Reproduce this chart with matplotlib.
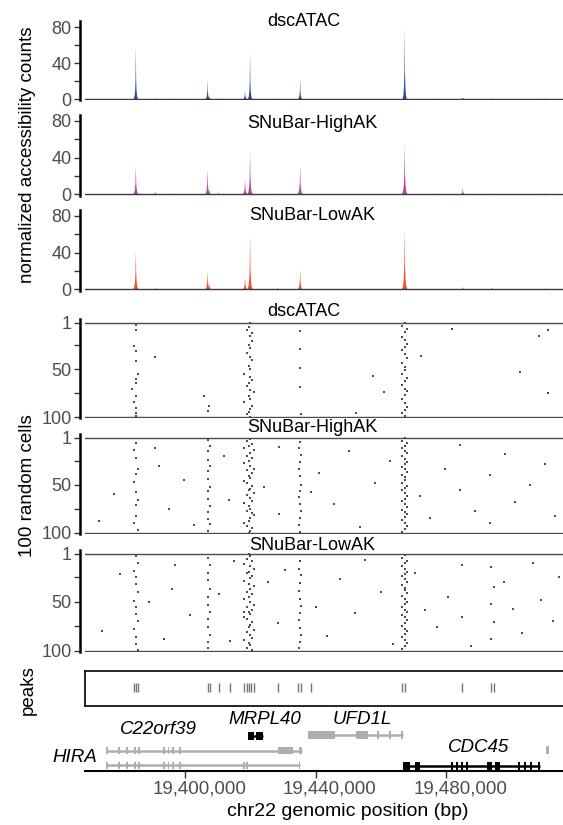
import matplotlib
matplotlib.use("Agg")
import matplotlib.pyplot as plt
from matplotlib.patches import Rectangle
import matplotlib.transforms as mtransforms

plt.rcParams['font.family'] = ['Liberation Sans', 'DejaVu Sans']

# ---------------- data ----------------
x_range = (19369300, 19515700)
x_ticks = [19400000, 19440000, 19480000]
x_tick_labels = ["19,400,000", "19,440,000", "19,480,000"]

track_names = ["dscATAC", "SNuBar-HighAK", "SNuBar-LowAK"]
track_colors = ["#2C4A9C", "#B3479C", "#F0502C"]

cov_peak_pos = [19384870, 19390790, 19395700, 19406850, 19407370, 19410130,
                19418320, 19419860, 19428300, 19435200, 19467210, 19476700,
                19485010, 19493900, 19509900]
dsc_cov = [58, 0.5, 0.3, 22, 3, 0.5, 10, 52, 0.5, 23, 80, 0.5, 2, 0.5, 0.5]
high_cov = [31, 3, 1.5, 27, 5, 2, 17, 46, 1, 31, 55, 1.5, 7, 1, 1.5]
low_cov = [43, 2, 1, 20, 7, 1, 14, 58, 2, 21, 65, 1, 3, 2, 1.5]

peak_calls = [19384195, 19384810, 19385420, 19406850, 19407670, 19410230,
              19413810, 19418110, 19418820, 19419540, 19420260, 19420970,
              19428340, 19434680, 19435500, 19438560, 19466500, 19467210,
              19484910, 19493610, 19494620]

# (position in kb, cell row)
dsc_dots = [
    (19384.9, 4), (19384.9, 9), (19384.2, 26), (19384.9, 31), (19384.9, 41), (19385.4, 55),
    (19384.9, 60), (19384.9, 64), (19383.7, 70), (19384.9, 78), (19384.2, 84), (19384.9, 90),
    (19384.9, 96), (19384.9, 99),
    (19390.8, 37), (19405.8, 78), (19407.4, 88), (19406.9, 93),
    (19419.9, 2), (19419.5, 6), (19418.8, 9), (19420.3, 12), (19419.9, 15), (19420.3, 20),
    (19419.5, 24), (19419.9, 28), (19418.8, 33), (19419.9, 37), (19420.3, 40), (19419.5, 46),
    (19419.9, 50), (19418.1, 55), (19419.9, 58), (19420.3, 61), (19419.5, 64), (19418.8, 67),
    (19419.9, 71), (19421.0, 74), (19419.5, 78), (19419.9, 81), (19418.1, 84), (19420.3, 88),
    (19419.9, 91), (19419.5, 94), (19418.8, 97), (19419.9, 100),
    (19435.2, 10), (19435.2, 29), (19435.2, 48), (19435.2, 68), (19435.5, 97),
    (19467.2, 1), (19466.5, 5), (19467.9, 8), (19467.2, 11), (19466.5, 16), (19467.2, 19),
    (19467.9, 23), (19467.2, 27), (19466.5, 30), (19467.2, 34), (19467.9, 38), (19466.5, 43),
    (19467.2, 47), (19467.2, 51), (19466.5, 55), (19467.9, 59), (19467.2, 62), (19466.5, 66),
    (19467.2, 70), (19467.9, 73), (19467.2, 77), (19466.5, 81), (19467.2, 85), (19467.9, 89),
    (19467.2, 92), (19466.5, 96), (19467.2, 99),
    (19457.4, 57), (19460.8, 74), (19452.2, 96), (19472.1, 36), (19481.6, 8), (19508.3, 15),
    (19511.1, 9), (19502.5, 53), (19511.1, 75)]

high_dots = [
    (19384.9, 6), (19384.2, 14), (19384.9, 22), (19385.4, 33), (19384.9, 39), (19384.2, 47),
    (19384.9, 58), (19385.4, 66), (19384.9, 71), (19384.9, 83), (19384.2, 90), (19385.4, 97),
    (19406.9, 3), (19407.7, 9), (19406.9, 15), (19406.9, 24), (19407.7, 30), (19406.9, 36),
    (19406.9, 44), (19407.7, 52), (19406.9, 57), (19406.9, 65), (19407.7, 72), (19406.9, 79),
    (19406.9, 86), (19407.7, 91), (19406.9, 98),
    (19419.9, 2), (19418.8, 4), (19420.3, 7), (19419.5, 9), (19418.1, 12), (19421.0, 14),
    (19419.9, 17), (19418.8, 20), (19420.3, 22), (19419.5, 25), (19418.1, 27), (19419.9, 30),
    (19421.0, 33), (19418.8, 35), (19420.3, 38), (19419.5, 41), (19419.9, 43), (19418.1, 46),
    (19418.8, 48), (19420.3, 51), (19419.9, 54), (19419.5, 56), (19421.0, 59), (19418.8, 61),
    (19419.9, 64), (19420.3, 67), (19418.1, 69), (19419.5, 72), (19419.9, 75), (19418.8, 77),
    (19420.3, 80), (19421.0, 82), (19419.9, 85), (19419.5, 88), (19418.1, 90), (19418.8, 93),
    (19420.3, 95), (19419.9, 98), (19419.5, 100),
    (19435.2, 5), (19434.7, 11), (19435.5, 19), (19435.2, 26), (19434.7, 34), (19435.2, 41),
    (19435.5, 50), (19435.2, 57), (19434.7, 63), (19435.2, 70), (19435.5, 78), (19435.2, 85),
    (19434.7, 92), (19435.2, 99),
    (19467.2, 1), (19466.5, 4), (19467.9, 6), (19467.2, 9), (19466.5, 12), (19467.2, 15),
    (19467.9, 17), (19466.5, 20), (19467.2, 23), (19467.9, 26), (19467.2, 28), (19466.5, 31),
    (19467.2, 34), (19467.9, 37), (19466.5, 40), (19467.2, 42), (19467.2, 45), (19466.5, 48),
    (19467.9, 51), (19467.2, 53), (19466.5, 56), (19467.2, 59), (19467.9, 62), (19467.2, 65),
    (19466.5, 67), (19467.2, 70), (19467.9, 73), (19466.5, 76), (19467.2, 79), (19467.9, 81),
    (19467.2, 84), (19466.5, 87), (19467.2, 90), (19467.9, 93), (19467.2, 96), (19466.5, 99),
    (19373.6, 88), (19378.2, 60), (19392.0, 30), (19395.1, 75), (19399.7, 45), (19402.8, 92),
    (19412.0, 20), (19413.5, 66), (19424.2, 52), (19428.8, 10), (19428.8, 81), (19441.1, 38),
    (19445.7, 70), (19450.3, 15), (19453.4, 94), (19458.0, 48), (19462.6, 25), (19471.8, 62),
    (19474.9, 85), (19479.5, 33), (19484.1, 55), (19484.1, 8), (19488.7, 77), (19493.3, 40),
    (19493.3, 90), (19497.9, 18), (19501.0, 68), (19505.6, 50), (19510.2, 28), (19513.2, 83),
    (19390.8, 12), (19438.6, 58)]

low_dots = [
    (19384.9, 3), (19385.4, 10), (19384.2, 18), (19384.9, 25), (19384.9, 32), (19385.4, 40),
    (19384.2, 49), (19384.9, 55), (19384.9, 63), (19385.4, 70), (19384.2, 78), (19384.9, 86),
    (19384.9, 93), (19385.4, 99),
    (19406.9, 5), (19407.7, 12), (19406.9, 20), (19406.9, 28), (19407.7, 37), (19406.9, 45),
    (19406.9, 53), (19407.7, 61), (19406.9, 68), (19406.9, 76), (19407.7, 84), (19406.9, 91),
    (19406.9, 97),
    (19419.5, 1), (19419.9, 3), (19418.8, 6), (19420.3, 8), (19418.1, 11), (19419.9, 13),
    (19421.0, 16), (19419.5, 19), (19418.8, 21), (19420.3, 24), (19419.9, 26), (19418.1, 29),
    (19419.5, 32), (19421.0, 34), (19419.9, 37), (19418.8, 40), (19420.3, 42), (19419.5, 45),
    (19418.1, 47), (19419.9, 50), (19421.0, 53), (19418.8, 55), (19420.3, 58), (19419.5, 60),
    (19419.9, 63), (19418.1, 66), (19418.8, 68), (19420.3, 71), (19419.9, 74), (19419.5, 76),
    (19421.0, 79), (19418.8, 81), (19419.9, 84), (19420.3, 87), (19418.1, 89), (19419.5, 92),
    (19419.9, 94), (19418.8, 97), (19420.3, 99),
    (19435.2, 8), (19434.7, 16), (19435.5, 23), (19435.2, 31), (19434.7, 39), (19435.2, 47),
    (19435.5, 54), (19435.2, 62), (19434.7, 69), (19435.2, 77), (19435.5, 84), (19435.2, 91),
    (19434.7, 97),
    (19467.2, 2), (19466.5, 5), (19467.9, 8), (19467.2, 10), (19466.5, 13), (19467.2, 16),
    (19467.9, 19), (19467.2, 22), (19466.5, 24), (19467.2, 27), (19467.9, 30), (19466.5, 33),
    (19467.2, 36), (19467.2, 38), (19467.9, 41), (19466.5, 44), (19467.2, 47), (19467.9, 50),
    (19467.2, 52), (19466.5, 55), (19467.2, 58), (19467.9, 61), (19466.5, 64), (19467.2, 66),
    (19467.9, 69), (19467.2, 72), (19466.5, 75), (19467.2, 78), (19467.9, 80), (19467.2, 83),
    (19466.5, 86), (19467.2, 89), (19467.9, 92), (19467.2, 95), (19466.5, 98),
    (19493.6, 14), (19494.6, 35), (19493.6, 52), (19494.6, 71), (19493.6, 88),
    (19374.5, 80), (19380.0, 22), (19389.0, 50), (19393.5, 88), (19397.0, 12), (19401.5, 64),
    (19410.2, 42), (19413.8, 90), (19415.0, 8), (19425.5, 30), (19428.3, 72), (19430.5, 17),
    (19440.0, 55), (19443.5, 85), (19447.5, 27), (19452.0, 62), (19455.0, 7), (19460.0, 40),
    (19463.5, 93), (19470.5, 20), (19473.5, 58), (19477.0, 76), (19480.5, 45), (19484.9, 12),
    (19484.9, 66), (19487.5, 95), (19497.5, 30), (19500.5, 57), (19503.0, 82), (19506.5, 10),
    (19509.0, 48), (19512.5, 70), (19514.5, 25), (19396.0, 37), (19418.0, 60)]

# genes: spans and exons (bp)
hira_tx1_span = (19375755, 19435805)
hira_tx1_exons = [(19375755, 19376355), (19379438, 19380038), (19381790, 19382390),
                  (19384348, 19384948), (19385678, 19386278), (19393248, 19393848),
                  (19394578, 19395178), (19395908, 19396508), (19398159, 19398759),
                  (19428336, 19432939), (19434987, 19435805)]
hira_tx2_span = (19375755, 19435300)
hira_tx2_exons = [(19375755, 19376355), (19379438, 19380038), (19381790, 19382390),
                  (19384348, 19384948), (19385678, 19386278), (19393248, 19393848),
                  (19394578, 19395178), (19395908, 19396508), (19398159, 19398759),
                  (19417590, 19418190), (19418630, 19419230), (19434700, 19435300)]
mrpl40_span = (19419120, 19423740)
mrpl40_exons = [(19419120, 19421180), (19421690, 19423740)]
ufd1l_span = (19437550, 19466690)
ufd1l_exons = [(19437550, 19445730), (19452380, 19455960), (19458770, 19459370),
               (19462360, 19462960), (19466090, 19466690)]
cdc45_span = (19466690, 19508640)
cdc45_exons = [(19466690, 19468740), (19470280, 19471810), (19481290, 19481890),
               (19482820, 19483420), (19484360, 19484960), (19485890, 19486490),
               (19492480, 19493820), (19494830, 19496370), (19502050, 19502650),
               (19503790, 19504390), (19505540, 19506140), (19508040, 19508640)]
right_gene_exons = [(19510480, 19511500)]

# ---------------- layout ----------------
W, H = 563, 825
fig = plt.figure(figsize=(W / 100, H / 100), dpi=100)
LPX, RPX = 85, 563
TICK_COLOR = "#333333"
LABEL_COLOR = "#4D4D4D"
FS = 13


def add_ax(top, bottom):
    return fig.add_axes([LPX / W, 1 - bottom / H, (RPX - LPX) / W, (bottom - top) / H])


def fig_text(xpx, ypx, s, **kw):
    fig.text(xpx / W, 1 - ypx / H, s, **kw)


def style_left(ax):
    for sp in ["top", "right", "bottom"]:
        ax.spines[sp].set_visible(False)
    ax.spines["left"].set_position(("outward", 3.6))
    ax.spines["left"].set_linewidth(1.8)
    ax.spines["left"].set_color("black")
    ax.set_xticks([])
    ax.tick_params(axis="y", direction="out", length=4, width=1, color=TICK_COLOR,
                   labelcolor=LABEL_COLOR, labelsize=FS, pad=2)
    ax.set_xlim(*x_range)
    ax.patch.set_alpha(0)


# coverage panels
cov_boxes = [(20.7, 100.0), (115.0, 195.5), (210.0, 290.5)]
cov_ylims = [(-1.1, 87.6), (-1.1, 86.5), (-1.1, 86.5)]
cov_title_px = [(304, 22), (312, 124), (312, 215)]
cov_values = [dsc_cov, high_cov, low_cov]
shape_dx = [-650, -380, -200, -90, -30, 0, 30, 90, 200, 380, 650]
shape_fy = [0, 0.06, 0.18, 0.4, 0.8, 1.0, 0.8, 0.4, 0.18, 0.06, 0]
shape_scale = [1.0, 1.35, 1.3]

for i in range(3):
    ax = add_ax(*cov_boxes[i])
    style_left(ax)
    ax.set_ylim(*cov_ylims[i])
    ax.set_yticks([0, 20, 40, 60, 80])
    ax.set_yticklabels(["0", "", "40", "", "80"])
    for c, h in zip(cov_peak_pos, cov_values[i]):
        xs = [c + d * shape_scale[i] for d in shape_dx]
        ys = [h * f for f in shape_fy]
        ax.fill(xs, ys, color=track_colors[i], lw=0)
    ax.axhline(0, color="#3a3a3a", lw=1.0)
    fig_text(cov_title_px[i][0], cov_title_px[i][1], track_names[i], ha="center",
             va="center", fontsize=FS)

# raster panels
rast_rows = [(322.5, 417.3), (438.0, 532.5), (554.0, 650.5)]
rast_title_px = [(304, 311.5), (312, 428), (312, 545)]
rast_dots = [dsc_dots, high_dots, low_dots]
for i in range(3):
    p1, p100 = rast_rows[i]
    ppr = (p100 - p1) / 99.0
    ax = add_ax(p1 - 4, p100 + 1)
    style_left(ax)
    ax.set_ylim(100 + 1 / ppr, 1 - 4 / ppr)
    ax.set_yticks([1, 25, 50, 75, 100])
    ax.set_yticklabels(["1", "", "50", "", "100"])
    ax.axhline(1, color="#4a4a4a", lw=1.0)
    ax.axhline(100, color="#4a4a4a", lw=1.0)
    xs = [p[0] * 1000 for p in rast_dots[i]]
    ys = [p[1] for p in rast_dots[i]]
    ax.scatter(xs, ys, s=0.8, marker="s", color="#4d4d4d", linewidths=0)
    fig_text(rast_title_px[i][0], rast_title_px[i][1], track_names[i], ha="center",
             va="center", fontsize=FS)

# peaks panel
axp = add_ax(670.5, 705.5)
axp.set_xlim(*x_range)
axp.set_ylim(0, 1)
axp.set_xticks([])
axp.set_yticks([])
for sp in axp.spines.values():
    sp.set_linewidth(1.2)
    sp.set_color("black")
axp.spines["right"].set_visible(False)
axp.vlines(peak_calls, 0.4, 0.64, color="#777777", lw=1.0)

# gene track
axg = add_ax(708, 771)
axg.set_xlim(*x_range)
axg.set_ylim(0, 63)
for sp in ["top", "right", "left"]:
    axg.spines[sp].set_visible(False)
axg.spines["bottom"].set_linewidth(1.5)
axg.spines["bottom"].set_color("black")
axg.set_yticks([])
axg.set_xticks(x_ticks)
axg.set_xticklabels(x_tick_labels)
axg.tick_params(axis="x", direction="out", length=5, width=1, color=TICK_COLOR,
                labelcolor=LABEL_COLOR, labelsize=13.5, pad=2)
shift = mtransforms.ScaledTranslation(14 / 100, 0, fig.dpi_scale_trans)
for lab in axg.get_xticklabels():
    lab.set_transform(lab.get_transform() + shift)
axg.patch.set_alpha(0)

GRAY = "#AEAEAE"


def draw_gene(span, exons, y, h, color, lw=1.8):
    axg.hlines(y, span[0], span[1], color=color, lw=lw)
    for s, e in exons:
        axg.add_patch(Rectangle((s, y - h / 2), e - s, h, facecolor=color,
                                edgecolor="none"))


draw_gene(hira_tx1_span, hira_tx1_exons, 20.3, 7.0, GRAY)
draw_gene(hira_tx2_span, hira_tx2_exons, 6.0, 7.0, GRAY)
draw_gene(mrpl40_span, mrpl40_exons, 35.0, 8.5, "black")
draw_gene(ufd1l_span, ufd1l_exons, 36.0, 8.5, GRAY)
draw_gene(cdc45_span, cdc45_exons, 5.0, 9.0, "black")
for s, e in right_gene_exons:
    axg.add_patch(Rectangle((s, 21 - 4), e - s, 8, facecolor=GRAY, edgecolor="none"))

gene_font = dict(fontsize=13.5, style="italic", va="center")
axg.text(19391714, 41, "C22orf39", ha="center", **gene_font)
axg.text(19424245, 51, "MRPL40", ha="center", **gene_font)
axg.text(19454321, 51, "UFD1L", ha="center", **gene_font)
axg.text(19489922, 24, "CDC45", ha="center", **gene_font)
axg.text(19372993, 14, "HIRA", ha="right", clip_on=False, **gene_font)

# axis labels
fig_text(28, 155, "normalized accessibility counts", rotation=90, ha="center",
         va="center", fontsize=13.5)
fig_text(28, 486, "100 random cells", rotation=90, ha="center", va="center",
         fontsize=13.5)
fig_text(28, 690, "peaks", rotation=90, ha="center", va="center", fontsize=13.5)
fig_text(348, 811, "chr22 genomic position (bp)", ha="center", va="center",
         fontsize=14)

fig.savefig("out.png", dpi=100)
